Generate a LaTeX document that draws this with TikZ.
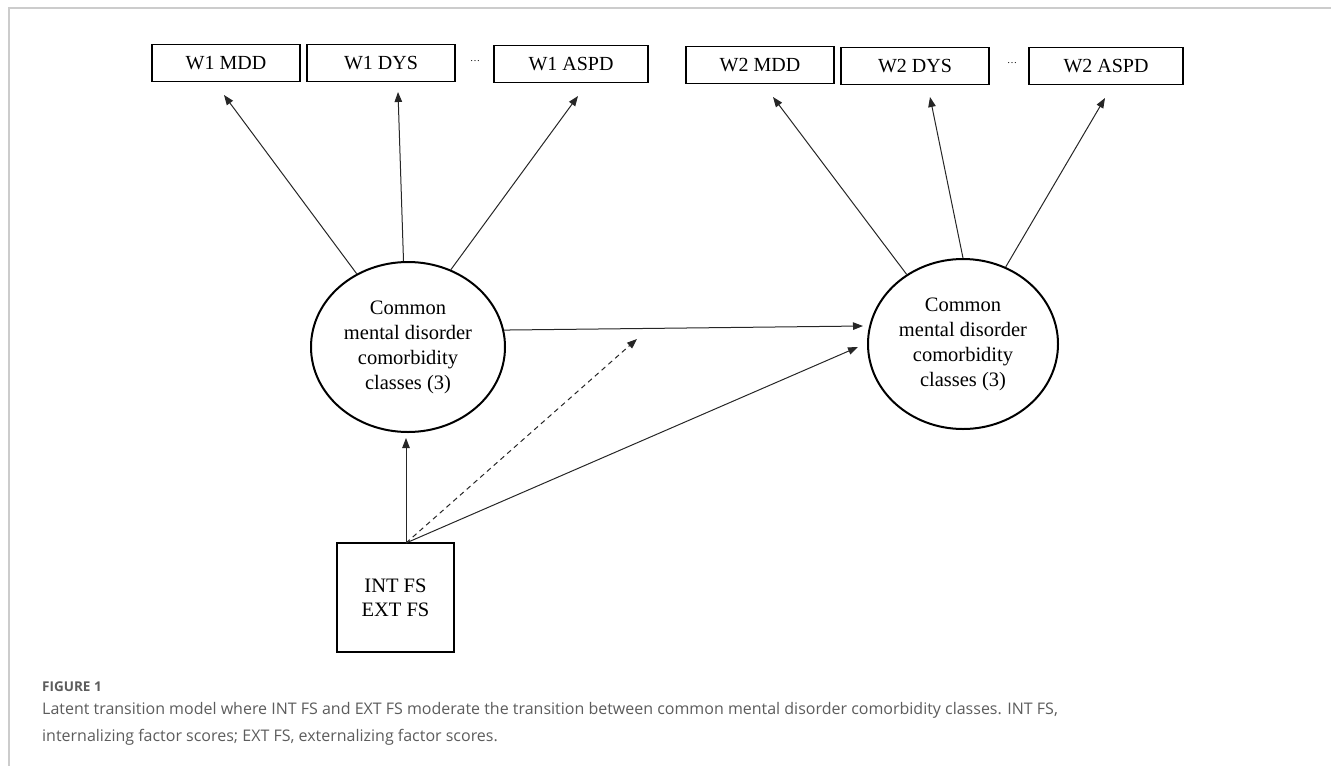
\documentclass[tikz,border=0pt]{standalone}
\usepackage{fontspec}
\setmainfont{Liberation Serif}
\newfontfamily\capfont{Open Sans}
\usepackage{tikz}
\usetikzlibrary{shapes.geometric, arrows.meta}
\usetikzlibrary{calc}
\definecolor{framegray}{HTML}{CCCCCC}
\definecolor{capgray}{HTML}{5C5C5C}
\tikzstyle{var} = [rectangle, 
draw=black, line width=1.3pt, 
minimum width=148pt, 
minimum height=37pt, inner sep=0pt, 
font=\fontsize{20}{24}\selectfont]
\tikzstyle{latent} = [ellipse, 
draw=black, line width=2pt, 
minimum width=194pt, 
minimum height=170pt, inner sep=0pt, 
align=center, font=\fontsize{20.5}{25}\selectfont]
\tikzstyle{arrow} = [line width=1pt, draw=black!85, -{Triangle[length=10pt,width=7.5pt]}]

\begin{document}
\begin{tikzpicture}[x=1pt, y=-1pt]
    \useasboundingbox (0,0) rectangle (1331,766);
    \draw[framegray, line width=2pt] (1331,8) -- (9,8) -- (9,766);

    % wave 1 indicators
    \node[var] (w1mdd) at (226,63) {W1 MDD};
    \node[var] (w1dys) at (381,63) {W1 DYS};
    \node (dots1) at (475,61) {\fontsize{10}{12}\selectfont\ldots};
    \node[var, minimum width=154pt] (w1aspd) at (571,64) {W1 ASPD};

    % wave 2 indicators
    \node[var] (w2mdd) at (760,65) {W2 MDD};
    \node[var] (w2dys) at (915,66) {W2 DYS};
    \node (dots2) at (1012,63) {\fontsize{10}{12}\selectfont\ldots};
    \node[var, minimum width=154pt] (w2aspd) at (1106,66) {W2 ASPD};

    % latent classes
    \node[latent] (c1) at (408,347) {Common\\mental disorder\\comorbidity\\classes (3)};
    \node[latent, minimum width=190pt] (c2) at (963,344) {Common\\mental disorder\\comorbidity\\classes (3)};

    % factor scores
    \node[rectangle, draw=black, line width=1.5pt, minimum width=117pt, minimum height=109pt, align=center, font=\fontsize{20.5}{24}\selectfont] (fs) at (395.5,597.5) {INT FS\\EXT FS};
    \coordinate (fsout) at (406,543);

    % arrow ends
    \coordinate (t1a) at (224,95);
    \coordinate (t1b) at (398,92);
    \coordinate (t1c) at (578,96);
    \coordinate (t2a) at (773,97);
    \coordinate (t2b) at (930,97);
    \coordinate (t2c) at (1105,98);
    \coordinate (trans) at (863,326);
    \coordinate (up1) at (406,438);
    \coordinate (mod) at (637,339);
    \coordinate (up2) at (858,347);

    % draw loadings
    \draw[arrow] (c1.125) -- (t1a);
    \draw[arrow] (c1.93) -- (t1b);
    \draw[arrow] (c1.61) -- (t1c);
    \draw[arrow] (c2.129) -- (t2a);
    \draw[arrow] (c2.90) -- (t2b);
    \draw[arrow] (c2.61) -- (t2c);

    % draw transition and covariates
    \draw[arrow] (c1.10) -- (trans);
    \draw[arrow] (fsout) -- (up1);
    \draw[arrow, dash pattern=on 5pt off 4pt] (fsout) -- (mod);
    \draw[arrow] (fsout) -- (up2);

    % caption
    \node[anchor=base west, inner sep=0pt, text=capgray, font=\capfont\bfseries\fontsize{13.5}{16}\selectfont] (fig) at (42,691) {FIGURE 1};
    \node[anchor=base west, inner sep=0pt, align=left, text=capgray, font=\capfont\fontsize{16}{27}\selectfont] (cap) at (42,741) {Latent transition model where INT FS and EXT FS moderate the transition between common mental disorder comorbidity classes. INT FS,\\internalizing factor scores; EXT FS, externalizing factor scores.};
\end{tikzpicture}
\end{document}
